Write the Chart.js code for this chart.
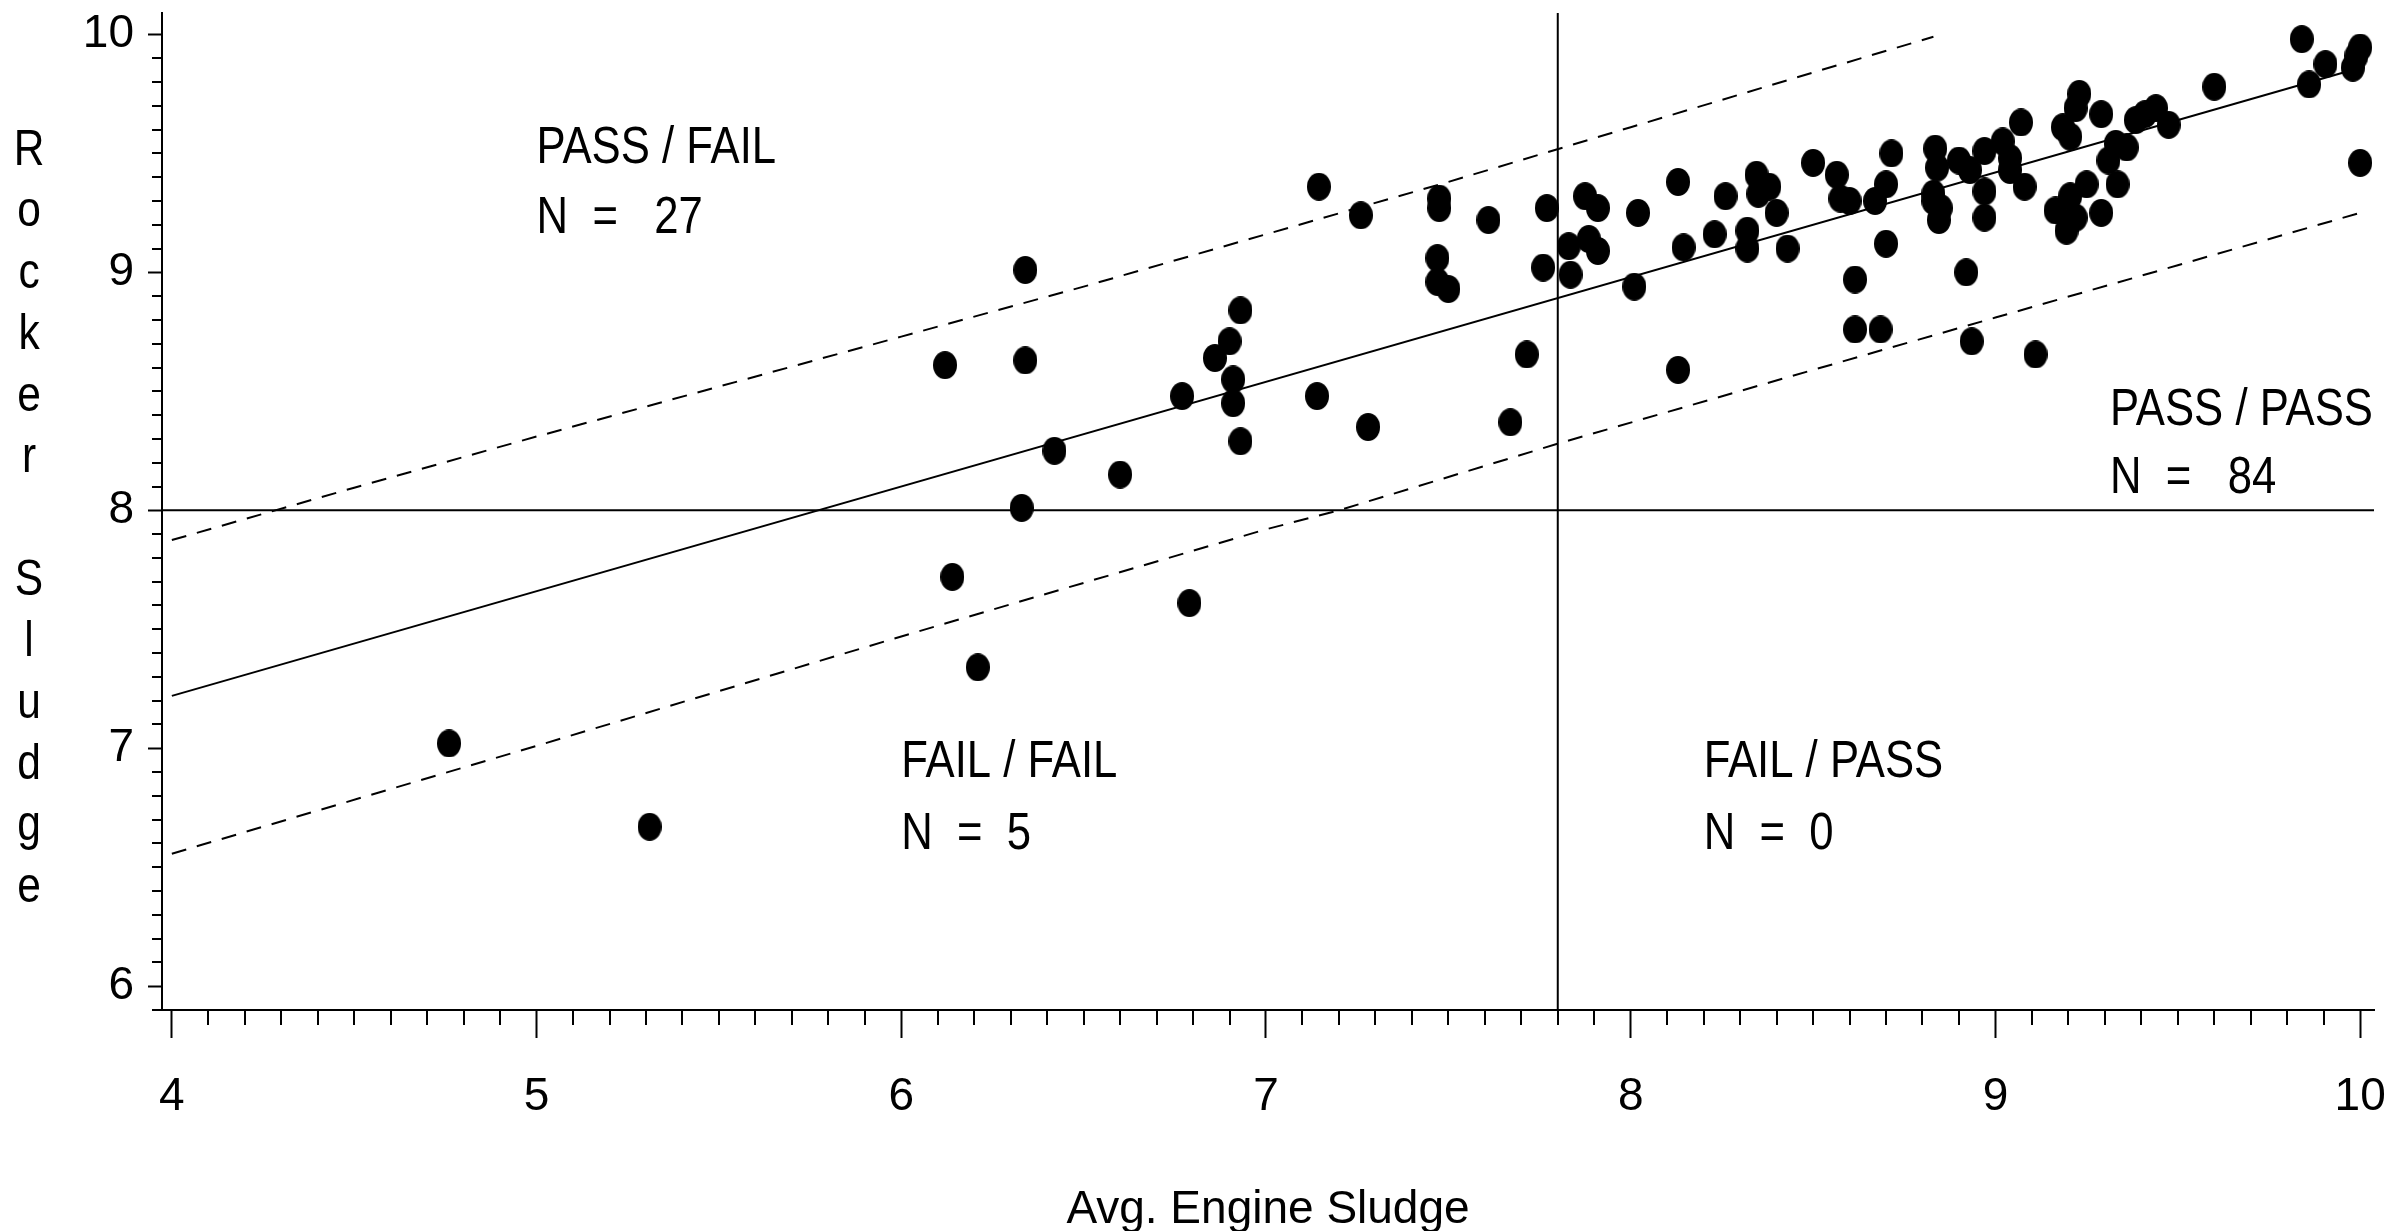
<!DOCTYPE html>
<html><head><meta charset="utf-8">
<script src="https://cdn.jsdelivr.net/npm/chart.js@4"></script>
<style>html,body{margin:0;padding:0;background:#fff;}canvas{display:block;}</style>
</head><body>
<canvas id="c" width="2387" height="1231"></canvas>
<script>
// ---------- data ----------
const engineSludge = [
  4.76, 5.31, 6.14, 6.21, 6.79,
  6.12, 6.34, 6.34, 6.42, 6.60, 6.77, 6.86, 6.90, 6.91, 6.91, 6.93, 6.93, 6.33,
  7.145, 7.26, 7.475, 7.475, 7.61, 7.77, 7.47, 7.47, 7.50, 7.76, 7.715, 7.67, 7.14, 7.28,
  7.875, 7.91, 8.02, 7.83, 7.835, 7.885, 7.91, 8.01,
  8.13, 8.26, 8.345, 8.38, 8.35, 8.40, 8.50, 8.565, 8.575, 8.60, 8.23, 8.32, 8.32, 8.43, 8.145, 8.615,
  8.70, 8.67, 8.715, 8.70, 8.835, 8.84, 8.83, 8.85, 8.845, 8.90, 8.93, 8.97, 8.97, 8.97, 9.02, 9.04, 9.04, 9.07, 9.08, 8.92,
  9.205, 9.23, 9.22, 9.29, 9.33, 9.36, 9.31, 9.335, 9.25, 9.205, 9.165, 9.195, 9.22, 9.29,
  9.41, 9.44, 9.475, 9.60, 9.84, 9.905, 9.86, 9.98, 10.0, 10.0,
  8.13, 8.615, 8.685, 8.935, 9.11,
  9.185, 9.385, 9.99, 8.83
];
const rockerSludge = [
  7.02, 6.67, 7.72, 7.34, 7.61,
  8.61, 9.01, 8.63, 8.25, 8.15, 8.48, 8.64, 8.71, 8.55, 8.45, 8.84, 8.29, 8.01,
  9.36, 9.24, 9.31, 9.27, 9.22, 9.27, 9.06, 8.96, 8.93, 9.02, 8.655, 8.37, 8.48, 8.35,
  9.32, 9.27, 9.25, 9.11, 8.99, 9.14, 9.09, 8.94,
  9.38, 9.32, 9.41, 9.36, 9.33, 9.25, 9.46, 9.41, 9.31, 9.30, 9.16, 9.175, 9.10, 9.10, 9.105, 8.97,
  9.37, 9.30, 9.50, 9.12, 9.52, 9.44, 9.33, 9.27, 9.22, 9.47, 9.43, 9.51, 9.34, 9.23, 9.55, 9.48, 9.43, 9.63, 9.36, 9.00,
  9.57, 9.75, 9.69, 9.665, 9.54, 9.525, 9.47, 9.37, 9.37, 9.32, 9.26, 9.175, 9.23, 9.25,
  9.665, 9.69, 9.62, 9.78, 9.98, 9.875, 9.79, 9.86, 9.945, 9.46,
  8.59, 8.76, 8.76, 8.71, 8.655,
  9.61, 9.64, 9.91, 9.30
];
// fitted regression line and prediction limits
const fitX = [4, 10];
const fitY = [7.22, 9.86];
const upperX = [4, 4.5, 5, 5.5, 6, 6.5, 7, 7.5, 8, 8.5, 8.83];
const upperY = [7.875, 8.095, 8.31, 8.52, 8.73, 8.94, 9.16, 9.38, 9.61, 9.84, 9.99];
const lowerX = [4, 5, 6, 7, 7.2, 7.8, 8.5, 9, 9.5, 10];
const lowerY = [6.557, 7.01, 7.47, 7.92, 8.0, 8.28, 8.59, 8.81, 9.03, 9.25];
// pass/fail limits
const limitX = 7.8;
const limitY = 8;
// axes
const xMin = 3.973, xMax = 10.038;
const yMin = 5.90, yMax = 10.09;
const xMajorTicks = [4, 5, 6, 7, 8, 9, 10];
const yMajorTicks = [6, 7, 8, 9, 10];
const minorStep = 0.1;
// quadrant labels
const quadTitles = ['PASS / FAIL', 'PASS / PASS', 'FAIL / FAIL', 'FAIL / PASS'];
const quadCounts = ['N  =   27', 'N  =   84', 'N  =  5', 'N  =  0'];
const quadAnchorX = [5.0, 9.314, 6.0, 8.2];
const quadTitleY = [9.52, 8.42, 6.94, 6.94];
const quadCountY = [9.224, 8.133, 6.636, 6.636];
const xTitle = 'Avg. Engine Sludge';
const yTitle = 'Rocker Sludge';

// ---------- drawing ----------
const FONT = "'Liberation Sans Narrow', 'Arial Narrow', 'Liberation Sans', Arial, sans-serif";
const pts = engineSludge.map((x, i) => ({x, y: rockerSludge[i]}));
const toXY = (xs, ys) => xs.map((x, i) => ({x, y: ys[i]}));

// elliptical dot marker
const dot = document.createElement('canvas');
dot.width = 24; dot.height = 28;
{ const d = dot.getContext('2d'); d.fillStyle = '#000'; d.beginPath(); d.ellipse(12, 14, 12, 14, 0, 0, Math.PI * 2); d.fill(); }

const lineDs = (data, dash, width) => ({
  type: 'scatter', data, showLine: true, borderColor: '#000', borderWidth: width,
  borderDash: dash, pointRadius: 0, fill: false, tension: 0
});

function narrowText(ctx, text, x, y, sx) {
  ctx.save();
  ctx.translate(x, y);
  ctx.scale(sx, 1);
  ctx.fillText(text, 0, 0);
  ctx.restore();
}

const extras = {
  id: 'extras',
  afterDraw(chart) {
    const ctx = chart.ctx, xs = chart.scales.x, ys = chart.scales.y;
    ctx.save();
    ctx.strokeStyle = '#000'; ctx.lineWidth = 2;
    // minor ticks
    for (let v = Math.round(xMin / minorStep) + 1; v * minorStep <= xMax; v++) {
      const val = v * minorStep;
      if (Math.abs(val - Math.round(val)) < 1e-6) continue;
      const p = Math.round(xs.getPixelForValue(val));
      ctx.beginPath(); ctx.moveTo(p, xs.top); ctx.lineTo(p, xs.top + 15); ctx.stroke();
    }
    for (let v = Math.ceil(yMin / minorStep); v * minorStep <= yMax; v++) {
      const val = v * minorStep;
      if (Math.abs(val - Math.round(val)) < 1e-6) continue;
      const p = Math.round(ys.getPixelForValue(val));
      ctx.beginPath(); ctx.moveTo(ys.right, p); ctx.lineTo(ys.right - 10, p); ctx.stroke();
    }
    // quadrant labels
    ctx.fillStyle = '#000';
    ctx.font = '52px ' + FONT;
    ctx.textAlign = 'left'; ctx.textBaseline = 'middle';
    quadTitles.forEach((t, i) => {
      const px = xs.getPixelForValue(quadAnchorX[i]);
      narrowText(ctx, t, px, ys.getPixelForValue(quadTitleY[i]), 0.84);
      narrowText(ctx, quadCounts[i], px, ys.getPixelForValue(quadCountY[i]), 0.84);
    });
    // stacked y title
    ctx.font = '50px ' + FONT;
    ctx.textAlign = 'center'; ctx.textBaseline = 'alphabetic';
    yTitle.split('').forEach((ch, i) => {
      if (ch === ' ') return;
      narrowText(ctx, ch, 29, 165 + 61.4 * i, 0.85);
    });
    ctx.restore();
  }
};

new Chart(document.getElementById('c'), {
  type: 'scatter',
  data: {
    datasets: [
      {data: pts, pointStyle: dot, pointRadius: 12, backgroundColor: '#000', borderColor: '#000'},
      lineDs(toXY(fitX, fitY), [], 2),
      lineDs(toXY(upperX, upperY), [15, 11], 2),
      lineDs(toXY(lowerX, lowerY), [15, 11], 2),
      lineDs([{x: xMin, y: limitY}, {x: xMax, y: limitY}], [], 2),
      lineDs([{x: limitX, y: yMin}, {x: limitX, y: yMax}], [], 2)
    ]
  },
  options: {
    responsive: false, animation: false, devicePixelRatio: 1,
    layout: {padding: {top: 12, right: 13, left: 0, bottom: 0}},
    plugins: {legend: {display: false}, tooltip: {enabled: false}},
    scales: {
      x: {
        type: 'linear', min: xMin, max: xMax,
        afterBuildTicks: s => { s.ticks = xMajorTicks.map(v => ({value: v})); },
        afterFit: s => { s.height = 221; s.paddingLeft = 0; s.paddingRight = 0; },
        grid: {drawOnChartArea: false, drawTicks: true, tickLength: 28, tickWidth: 2, tickColor: '#000'},
        border: {display: true, color: '#000', width: 2},
        ticks: {color: '#000', font: {family: FONT, size: 46}, padding: 32, maxRotation: 0, autoSkip: false},
        title: {display: true, text: xTitle, color: '#000', font: {family: FONT, size: 46}, padding: {top: 0, bottom: -7}}
      },
      y: {
        type: 'linear', min: yMin, max: yMax,
        afterBuildTicks: s => { s.ticks = yMajorTicks.map(v => ({value: v})); },
        afterFit: s => { s.width = 162; s.paddingTop = 0; s.paddingBottom = 0; },
        grid: {drawOnChartArea: false, drawTicks: true, tickLength: 14, tickWidth: 2, tickColor: '#000'},
        border: {display: true, color: '#000', width: 2},
        ticks: {color: '#000', font: {family: FONT, size: 46}, padding: 14, autoSkip: false}
      }
    }
  },
  plugins: [extras]
});
</script>
</body></html>
